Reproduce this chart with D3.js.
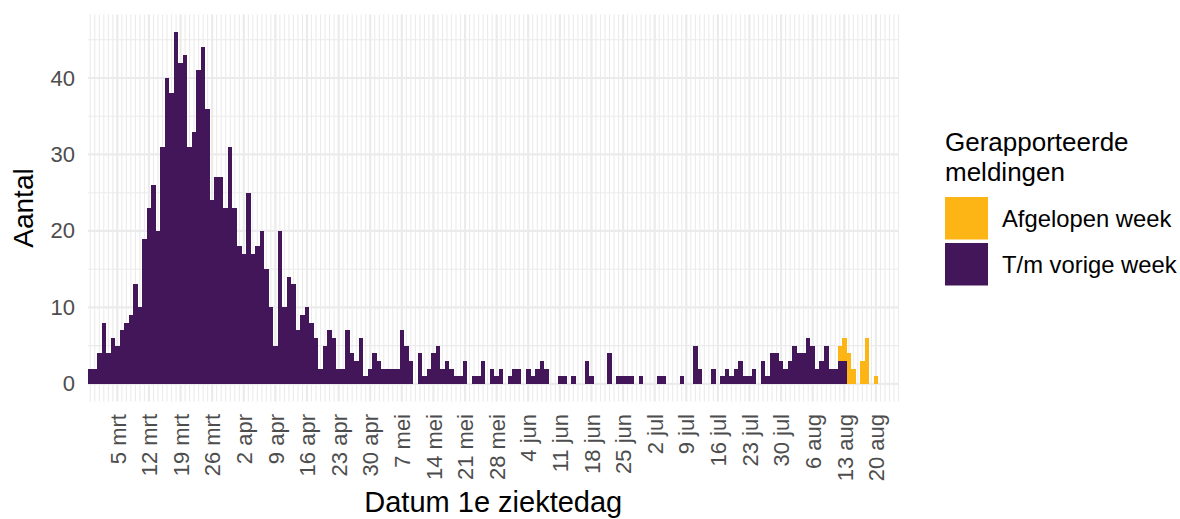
<!DOCTYPE html>
<html>
<head>
<meta charset="utf-8">
<script src="https://cdn.jsdelivr.net/npm/d3@7"></script>
<style>
  body { margin: 0; background: #fff; }
  svg { font-family: "Liberation Sans", Arial, sans-serif; }
</style>
</head>
<body>
<script>
  // meldingen per dag, dag 0 = 27 feb 2020
  var startDatum = "2020-02-27";
  var eindDatum = "2020-08-25";

  var vorigeWeek = [
    0, 2, 2, 4, 8, 4, 6, 5, 7, 8, 9, 13, 10, 19, 23, 26, 20, 31, 40, 38,
    46, 42, 43, 31, 33, 41, 44, 36, 24, 27, 27, 23, 31, 23, 18, 17, 25, 17, 18, 20,
    15, 10, 5, 20, 10, 14, 13, 7, 9, 10, 8, 6, 2, 5, 7, 6, 2, 2, 7, 4,
    3, 6, 1, 2, 4, 3, 2, 2, 2, 2, 7, 5, 3, 0, 4, 1, 2, 4, 5, 2,
    3, 2, 1, 1, 3, 0, 1, 1, 3, 0, 2, 1, 2, 0, 1, 2, 2, 0, 2, 1,
    2, 3, 2, 0, 0, 1, 1, 0, 1, 0, 0, 3, 1, 0, 0, 0, 4, 0, 1, 1,
    1, 1, 0, 1, 0, 0, 0, 1, 1, 0, 0, 0, 1, 0, 0, 5, 2, 0, 0, 2,
    0, 1, 2, 1, 2, 3, 1, 1, 2, 0, 3, 1, 4, 4, 3, 2, 3, 5, 4, 4,
    6, 5, 2, 3, 5, 2, 2, 3, 3, 0, 0, 0, 0, 0, 0, 0
  ];
  var afgelopenWeek = [
    0, 0, 0, 0, 0, 0, 0, 0, 0, 0, 0, 0, 0, 0, 0, 0, 0, 0, 0, 0,
    0, 0, 0, 0, 0, 0, 0, 0, 0, 0, 0, 0, 0, 0, 0, 0, 0, 0, 0, 0,
    0, 0, 0, 0, 0, 0, 0, 0, 0, 0, 0, 0, 0, 0, 0, 0, 0, 0, 0, 0,
    0, 0, 0, 0, 0, 0, 0, 0, 0, 0, 0, 0, 0, 0, 0, 0, 0, 0, 0, 0,
    0, 0, 0, 0, 0, 0, 0, 0, 0, 0, 0, 0, 0, 0, 0, 0, 0, 0, 0, 0,
    0, 0, 0, 0, 0, 0, 0, 0, 0, 0, 0, 0, 0, 0, 0, 0, 0, 0, 0, 0,
    0, 0, 0, 0, 0, 0, 0, 0, 0, 0, 0, 0, 0, 0, 0, 0, 0, 0, 0, 0,
    0, 0, 0, 0, 0, 0, 0, 0, 0, 0, 0, 0, 0, 0, 0, 0, 0, 0, 0, 0,
    0, 0, 0, 0, 0, 0, 0, 2, 3, 4, 2, 0, 3, 6, 0, 1
  ];

  var tickDatums = ["2020-03-05","2020-03-12","2020-03-19","2020-03-26","2020-04-02","2020-04-09",
    "2020-04-16","2020-04-23","2020-04-30","2020-05-07","2020-05-14","2020-05-21","2020-05-28",
    "2020-06-04","2020-06-11","2020-06-18","2020-06-25","2020-07-02","2020-07-09","2020-07-16",
    "2020-07-23","2020-07-30","2020-08-06","2020-08-13","2020-08-20"];
  var tickLabels = ["5 mrt","12 mrt","19 mrt","26 mrt","2 apr","9 apr","16 apr","23 apr","30 apr",
    "7 mei","14 mei","21 mei","28 mei","4 jun","11 jun","18 jun","25 jun","2 jul","9 jul",
    "16 jul","23 jul","30 jul","6 aug","13 aug","20 aug"];
  var yTicks = [0, 10, 20, 30, 40];
  var yMinor = [5, 15, 25, 35, 45];

  var reeksen = ["vorig", "afgelopen"];
  var legendaLabels = ["Afgelopen week", "T/m vorige week"];
  var kleuren = {afgelopen: "#FDB515", vorig: "#43165A"};

  var width = 1180, height = 519;
  var panel = {left: 88, right: 898.5, top: 14.5, bottom: 401.5};

  var svg = d3.select("body").append("svg")
      .attr("width", width)
      .attr("height", height);

  var start = d3.utcParse("%Y-%m-%d")(startDatum);
  var eind = d3.utcParse("%Y-%m-%d")(eindDatum);

  var rows = vorigeWeek.map(function(v, i) {
    return {datum: d3.utcDay.offset(start, i), vorig: v, afgelopen: afgelopenWeek[i]};
  });

  var x = d3.scaleUtc()
      .domain([d3.utcHour.offset(start, 12), eind])
      .range([panel.left, panel.right]);
  var y = d3.scaleLinear().domain([-2.3, 48.3]).range([panel.bottom, panel.top]);

  var grid = svg.append("g").attr("stroke", "#EBEBEB");

  // minor grid: elke dag en de tussenwaarden
  grid.selectAll(".vmin").data(d3.utcDay.range(d3.utcDay.offset(start, 1), d3.utcDay.offset(eind, 1)))
    .enter().append("line")
      .attr("x1", function(d) { return x(d); }).attr("x2", function(d) { return x(d); })
      .attr("y1", panel.top).attr("y2", panel.bottom)
      .attr("stroke-width", 1.1);
  grid.selectAll(".hmin").data(yMinor).enter().append("line")
      .attr("x1", panel.left).attr("x2", panel.right)
      .attr("y1", function(d) { return y(d); }).attr("y2", function(d) { return y(d); })
      .attr("stroke-width", 1.1);

  var parse = d3.utcParse("%Y-%m-%d");
  var tickDates = tickDatums.map(parse);

  grid.selectAll(".vmaj").data(tickDates).enter().append("line")
      .attr("x1", function(d) { return x(d); }).attr("x2", function(d) { return x(d); })
      .attr("y1", panel.top).attr("y2", panel.bottom)
      .attr("stroke-width", 2.2);
  grid.selectAll(".hmaj").data(yTicks).enter().append("line")
      .attr("x1", panel.left).attr("x2", panel.right)
      .attr("y1", function(d) { return y(d); }).attr("y2", function(d) { return y(d); })
      .attr("stroke-width", 2.2);

  // bars
  var stack = d3.stack().keys(reeksen)(rows);

  svg.append("g").selectAll("g").data(stack).enter().append("g")
      .attr("fill", function(s) { return kleuren[s.key]; })
    .selectAll("rect").data(function(s) { return s.filter(function(d) { return d[1] > d[0]; }); })
    .enter().append("rect")
      .attr("x", function(d) { return Math.max(panel.left, x(d3.utcHour.offset(d.data.datum, -12))); })
      .attr("width", function(d) {
        var x0 = Math.max(panel.left, x(d3.utcHour.offset(d.data.datum, -12)));
        return x(d3.utcHour.offset(d.data.datum, 12)) - x0;
      })
      .attr("y", function(d) { return y(d[1]); })
      .attr("height", function(d) { return y(d[0]) - y(d[1]); })
      .attr("shape-rendering", "crispEdges");

  // assen
  var yAxis = svg.append("g")
      .attr("transform", "translate(" + panel.left + ",0)")
      .call(d3.axisLeft(y).tickValues(yTicks).tickSize(0).tickPadding(13));
  yAxis.select(".domain").remove();
  yAxis.selectAll("text")
      .attr("fill", "#4D4D4D")
      .style("font-size", "22px")
      .style("font-family", "Liberation Sans, Arial, sans-serif");

  var xAxis = svg.append("g")
      .attr("transform", "translate(0," + panel.bottom + ")")
      .call(d3.axisBottom(x).tickValues(tickDates)
        .tickFormat(function(d, i) { return tickLabels[i]; }).tickSize(0));
  xAxis.select(".domain").remove();
  xAxis.selectAll("text")
      .attr("fill", "#4D4D4D")
      .attr("transform", "rotate(-90)")
      .attr("x", -12.5)
      .attr("y", 0)
      .attr("dy", "0.35em")
      .style("text-anchor", "end")
      .style("font-size", "22px")
      .style("font-family", "Liberation Sans, Arial, sans-serif");

  svg.append("text")
      .attr("x", (panel.left + panel.right) / 2)
      .attr("y", 512)
      .attr("text-anchor", "middle")
      .style("font-size", "29px")
      .text("Datum 1e ziektedag");

  svg.append("text")
      .attr("transform", "translate(33," + ((panel.top + panel.bottom) / 2) + ") rotate(-90)")
      .attr("text-anchor", "middle")
      .style("font-size", "28px")
      .text("Aantal");

  // legenda
  var legend = svg.append("g").attr("transform", "translate(945,0)");
  legend.append("text").attr("x", 0).attr("y", 150.5).style("font-size", "26px").text("Gerapporteerde");
  legend.append("text").attr("x", 0).attr("y", 180.5).style("font-size", "26px").text("meldingen");

  var keys = ["afgelopen", "vorig"];
  keys.forEach(function(k, i) {
    legend.append("rect")
        .attr("x", 0).attr("y", 197 + i * 46)
        .attr("width", 43).attr("height", 42.5)
        .attr("fill", kleuren[k]);
    legend.append("text")
        .attr("x", 57).attr("y", 218.3 + i * 46)
        .attr("dy", "0.36em")
        .style("font-size", "23.8px")
        .text(legendaLabels[i]);
  });
</script>
</body>
</html>
